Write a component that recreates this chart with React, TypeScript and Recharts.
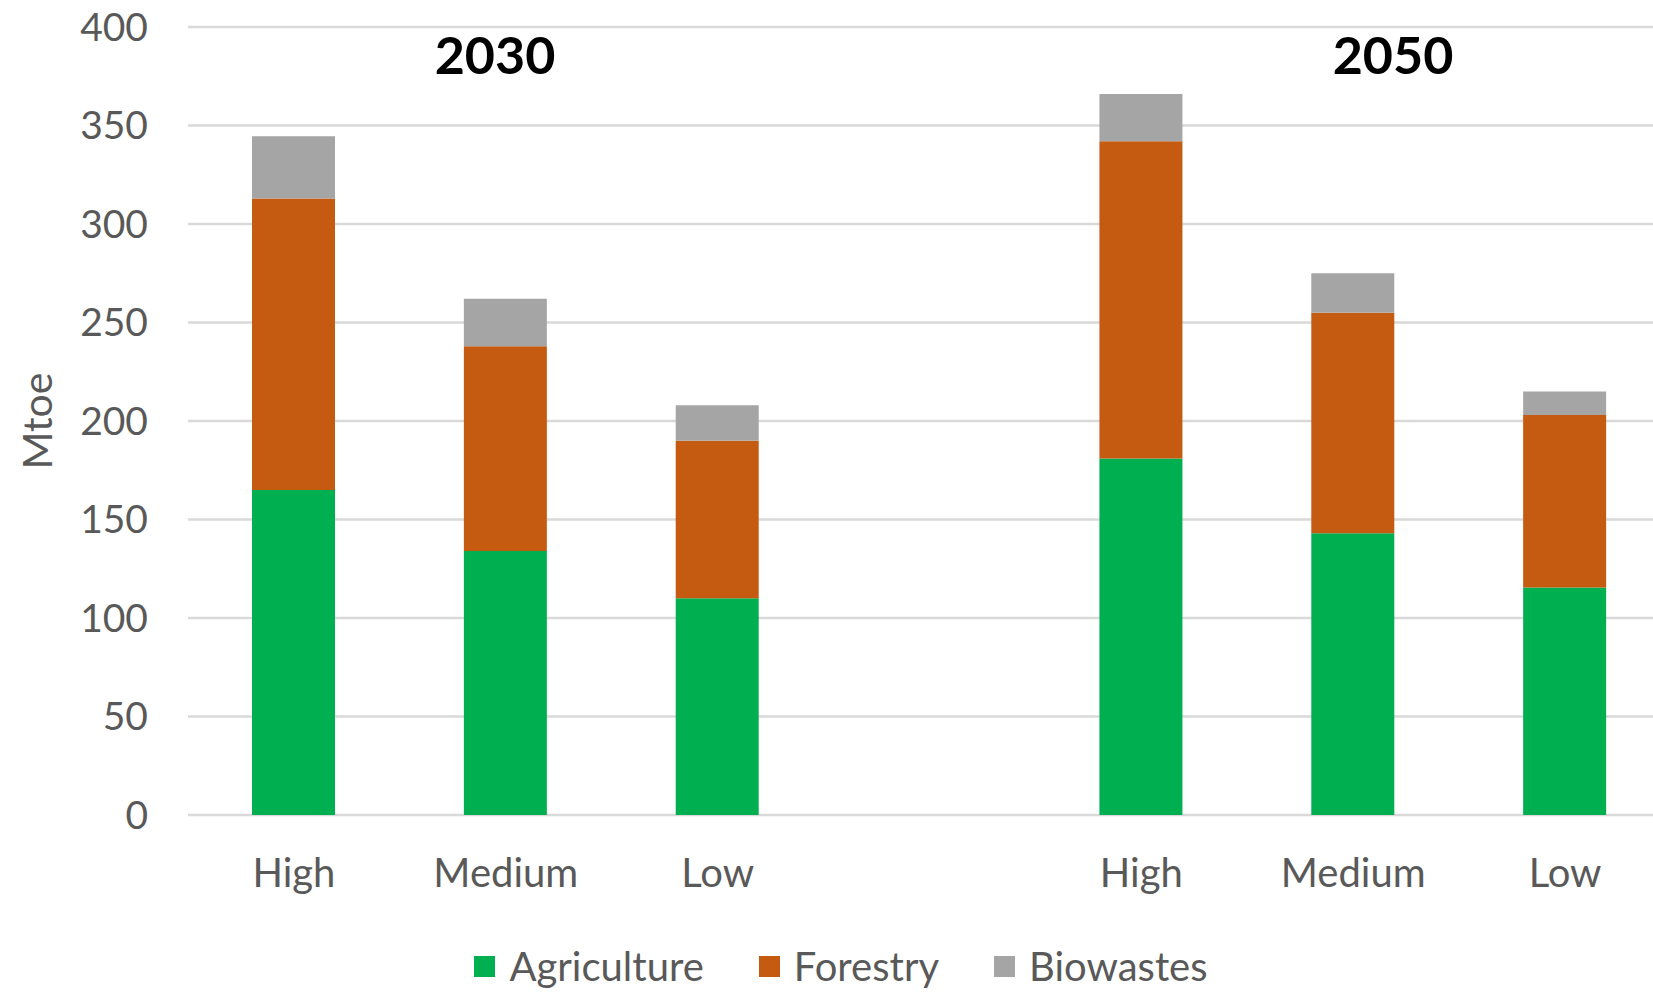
import { BarChart, Bar, XAxis, YAxis, CartesianGrid } from 'recharts'

// Bioenergy potential by scenario, Mtoe (blank slot separates the two horizons)
const scenarios = ['High', 'Medium', 'Low', '', 'High', 'Medium', 'Low']
const agriculture = [165, 134, 110, null, 181, 143, 115.5]
const forestry = [148, 104, 80, null, 161, 112, 87.5]
const biowastes = [31.5, 24, 18, null, 24, 20, 12]
const yTicks = [0, 50, 100, 150, 200, 250, 300, 350, 400]
const periods = ['2030', '2050']

const series = [
  { key: 'agriculture', label: 'Agriculture', color: '#00B050' },
  { key: 'forestry', label: 'Forestry', color: '#C55A11' },
  { key: 'biowastes', label: 'Biowastes', color: '#A5A5A5' },
]

const data = scenarios.map((s, i) => ({
  id: i,
  scenario: s,
  agriculture: agriculture[i],
  forestry: forestry[i],
  biowastes: biowastes[i],
}))

const FONT = 'Lato, "Open Sans", sans-serif'
const TEXT = '#595959'
const CHART_W = 1690
const CHART_H = 992

export default function App() {
  return (
    <div style={{
      position: 'absolute', left: 0, top: 0, width: 1653, height: 992,
      overflow: 'hidden', background: '#fff', fontFamily: FONT,
    }}>
      <BarChart
        width={CHART_W}
        height={CHART_H}
        data={data}
        margin={{ top: 27, right: 19, left: 0, bottom: 77 }}
      >
        <CartesianGrid stroke="#D9D9D9" strokeWidth={2.5} vertical={false} />
        <XAxis
          dataKey="id"
          tickFormatter={(v: number) => scenarios[v]}
          height={100}
          axisLine={false}
          tickLine={false}
          tickSize={0}
          tickMargin={44}
          interval={0}
          tick={{ fontSize: 40, fill: TEXT, fontFamily: FONT }}
        />
        <YAxis
          domain={[0, 400]}
          ticks={yTicks}
          width={188}
          axisLine={false}
          tickLine={false}
          tickSize={0}
          tickMargin={40}
          tick={{ fontSize: 39, fill: TEXT, fontFamily: FONT }}
          label={{
            value: 'Mtoe', angle: -90, position: 'insideLeft', offset: 37,
            textAnchor: 'middle', fontSize: 41, fill: TEXT, fontFamily: FONT,
          }}
        />
        {series.map(s => (
          <Bar
            key={s.key}
            dataKey={s.key}
            name={s.label}
            stackId="total"
            fill={s.color}
            barSize={83}
            isAnimationActive={false}
          />
        ))}
      </BarChart>

      {/* horizon headings */}
      <svg width={1653} height={120} style={{ position: 'absolute', left: 0, top: 0 }}>
        <text x={495} y={74} textAnchor="middle" fontSize={52} fontWeight={700} fill="#000" fontFamily={FONT}>{periods[0]}</text>
        <text x={1393} y={74} textAnchor="middle" fontSize={52} fontWeight={700} fill="#000" fontFamily={FONT}>{periods[1]}</text>
      </svg>

      {/* legend */}
      <div style={{
        position: 'absolute', left: 0, top: 946, width: CHART_W - 8,
        display: 'flex', justifyContent: 'center', gap: 55,
      }}>
        {series.map(s => (
          <div key={s.key} style={{ display: 'flex', alignItems: 'center', gap: 14 }}>
            <span style={{ width: 21, height: 21, background: s.color, display: 'inline-block' }} />
            <span style={{ fontSize: 40, color: TEXT, lineHeight: 1 }}>{s.label}</span>
          </div>
        ))}
      </div>
    </div>
  )
}
